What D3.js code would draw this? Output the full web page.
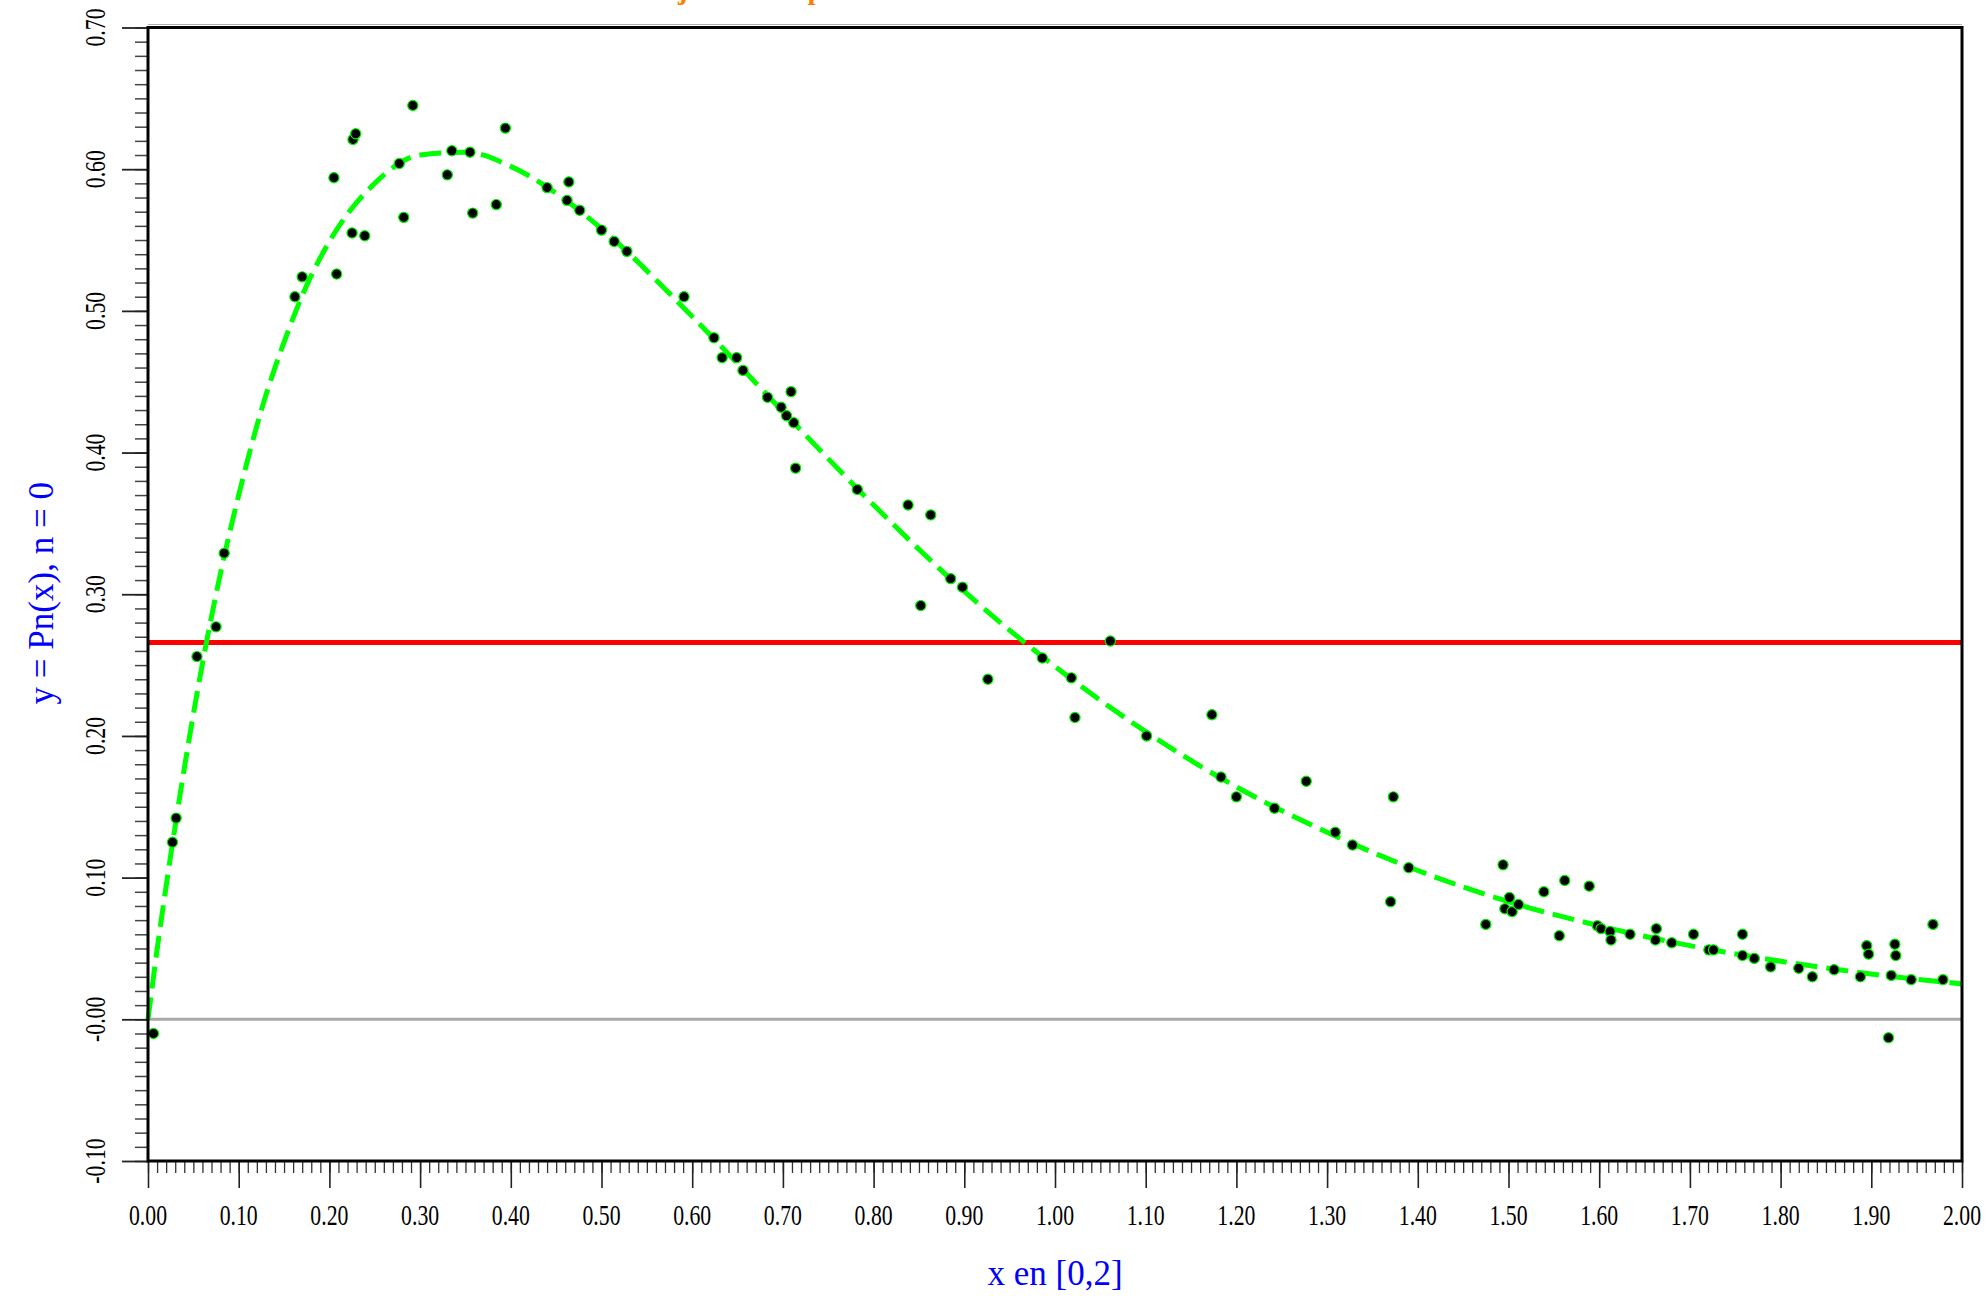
<!DOCTYPE html>
<html>
<head>
<meta charset="utf-8">
<script src="https://cdn.jsdelivr.net/npm/d3@7"></script>
<style>
  html, body { margin: 0; padding: 0; background: #fff; }
  svg { display: block; }
  text { font-family: "Liberation Serif", "Times New Roman", serif; }
</style>
</head>
<body>
<svg id="chart" width="1986" height="1296"></svg>
<script>
// ---- data ----
const pointsX = [0.006,0.027,0.031,0.054,0.075,0.084,0.162,0.170,0.205,0.208,0.225,0.226,0.229,0.239,0.277,0.282,0.292,0.330,0.335,0.355,0.358,0.384,0.394,0.440,0.462,0.464,0.476,0.500,0.514,0.528,0.591,0.624,0.633,0.649,0.656,0.683,0.698,0.704,0.709,0.712,0.714,0.782,0.838,0.852,0.863,0.885,0.898,0.926,0.986,1.018,1.022,1.061,1.101,1.173,1.183,1.200,1.242,1.277,1.309,1.328,1.370,1.373,1.390,1.475,1.494,1.496,1.501,1.504,1.511,1.539,1.556,1.562,1.589,1.598,1.602,1.612,1.613,1.634,1.663,1.662,1.680,1.704,1.721,1.726,1.758,1.758,1.771,1.789,1.820,1.835,1.859,1.888,1.895,1.897,1.919,1.922,1.926,1.927,1.944,1.968,1.979];
const pointsY = [-0.010,0.125,0.142,0.256,0.277,0.329,0.510,0.524,0.594,0.526,0.555,0.621,0.625,0.553,0.604,0.566,0.645,0.596,0.613,0.612,0.569,0.575,0.629,0.587,0.578,0.591,0.571,0.557,0.549,0.542,0.510,0.481,0.467,0.467,0.458,0.439,0.432,0.426,0.443,0.421,0.389,0.374,0.363,0.292,0.356,0.311,0.305,0.240,0.255,0.241,0.213,0.267,0.200,0.215,0.171,0.157,0.149,0.168,0.132,0.123,0.083,0.157,0.107,0.067,0.109,0.078,0.086,0.076,0.081,0.090,0.059,0.098,0.094,0.066,0.064,0.062,0.056,0.060,0.064,0.056,0.054,0.060,0.049,0.049,0.060,0.045,0.043,0.037,0.036,0.030,0.035,0.030,0.052,0.046,-0.013,0.031,0.053,0.045,0.028,0.067,0.028];

const curveX = [0.00,0.01,0.02,0.04,0.06,0.08,0.10,0.125,0.15,0.175,0.20,0.25,0.30,0.35,0.40,0.45,0.50,0.60,0.70,0.80,0.90,1.00,1.10,1.20,1.30,1.40,1.50,1.60,1.70,1.80,1.90,2.00];
const curveY = [0.000,0.049,0.094,0.177,0.251,0.315,0.370,0.430,0.478,0.518,0.549,0.590,0.610,0.612,0.602,0.583,0.558,0.496,0.429,0.363,0.302,0.249,0.203,0.164,0.132,0.105,0.083,0.066,0.052,0.041,0.032,0.025];

const meanLineY = 0.266;

const xTickLabels = ["0.00","0.10","0.20","0.30","0.40","0.50","0.60","0.70","0.80","0.90","1.00","1.10","1.20","1.30","1.40","1.50","1.60","1.70","1.80","1.90","2.00"];
const yTickLabels = ["-0.10","-0.00","0.10","0.20","0.30","0.40","0.50","0.60","0.70"];

const titleText = "Ajustement par moindres carrés";
const xLabel = "x en [0,2]";
const yLabel = "y = Pn(x), n = 0";

// ---- layout ----
const L = 148, R = 1962, T = 27.5, B = 1161;
const svg = d3.select("#chart");

const x = d3.scaleLinear().domain([0, 2]).range([L, R]);
const y = d3.scaleLinear().domain([-0.1, 0.7]).range([B, T]);

// title (only descenders visible, as in the reference)
svg.append("text")
  .attr("x", 657).attr("y", -1)
  .attr("font-size", 29).attr("font-weight", "bold")
  .attr("fill", "#FF8000")
  .text(titleText);

// gray line above top frame
svg.append("line")
  .attr("x1", L).attr("x2", R).attr("y1", T - 3).attr("y2", T - 3)
  .attr("stroke", "#b0b0b0").attr("stroke-width", 1.2);

// zero line
svg.append("line")
  .attr("x1", L).attr("x2", R).attr("y1", y(0)).attr("y2", y(0))
  .attr("stroke", "#a9a9a9").attr("stroke-width", 3);

// mean line
svg.append("line")
  .attr("x1", L).attr("x2", R).attr("y1", y(meanLineY)).attr("y2", y(meanLineY))
  .attr("stroke", "#ff0000").attr("stroke-width", 5);

// fitted curve
const curveData = curveX.map((v, i) => [v, curveY[i]]);
svg.append("path")
  .datum(curveData)
  .attr("fill", "none")
  .attr("stroke", "#00ff00")
  .attr("stroke-width", 5)
  .attr("stroke-dasharray", "22,9")
  .attr("d", d3.line().x(d => x(d[0])).y(d => y(d[1])).curve(d3.curveMonotoneX));

// points
const pts = pointsX.map((v, i) => [v, pointsY[i]]);
svg.append("g").selectAll("circle").data(pts).join("circle")
  .attr("cx", d => x(d[0])).attr("cy", d => y(d[1]))
  .attr("r", 5.1)
  .attr("fill", "#000")
  .attr("stroke", "#00ee00").attr("stroke-width", 1.2);

// x axis ticks
const xMinor = d3.range(0, 201).map(i => i / 100);
const gx = svg.append("g").attr("transform", `translate(0,${B})`);
gx.call(d3.axisBottom(x).tickValues(xMinor).tickSize(12).tickFormat(""))
  .call(g => g.select(".domain").remove())
  .call(g => g.selectAll("line").attr("stroke", "#333").attr("stroke-width", 1.3));
const gx2 = svg.append("g").attr("transform", `translate(0,${B})`);
gx2.call(d3.axisBottom(x).tickValues(xTickLabels.map(Number)).tickSize(27).tickFormat(""))
  .call(g => g.select(".domain").remove())
  .call(g => g.selectAll("line").attr("stroke", "#222").attr("stroke-width", 1.6));
svg.append("g").selectAll("text").data(xTickLabels).join("text")
  .attr("transform", d => `translate(${x(+d)},1225) scale(0.75,1)`)
  .attr("text-anchor", "middle")
  .attr("font-size", 29)
  .attr("fill", "#000")
  .text(d => d);

// y axis ticks
const yMinor = d3.range(-10, 71).map(i => i / 100);
const gy = svg.append("g").attr("transform", `translate(${L},0)`);
gy.call(d3.axisLeft(y).tickValues(yMinor).tickSize(13).tickFormat(""))
  .call(g => g.select(".domain").remove())
  .call(g => g.selectAll("line").attr("stroke", "#444").attr("stroke-width", 1.5));
const gy2 = svg.append("g").attr("transform", `translate(${L},0)`);
gy2.call(d3.axisLeft(y).tickValues(yTickLabels.map(Number)).tickSize(26).tickFormat(""))
  .call(g => g.select(".domain").remove())
  .call(g => g.selectAll("line").attr("stroke", "#222").attr("stroke-width", 1.8));
svg.append("g").selectAll("text").data(yTickLabels).join("text")
  .attr("transform", d => `translate(105,${y(+d)}) rotate(-90) scale(0.75,1)`)
  .attr("text-anchor", "middle")
  .attr("font-size", 29)
  .attr("fill", "#000")
  .text(d => d);

// frame
svg.append("rect")
  .attr("x", L).attr("y", T).attr("width", R - L).attr("height", B - T)
  .attr("fill", "none").attr("stroke", "#000").attr("stroke-width", 3);

// axis labels
svg.append("text")
  .attr("x", (L + R) / 2).attr("y", 1285)
  .attr("text-anchor", "middle")
  .attr("font-size", 35).attr("fill", "#0000ff")
  .text(xLabel);
svg.append("text")
  .attr("transform", `translate(53,${(T + B) / 2 - 1}) rotate(-90)`)
  .attr("text-anchor", "middle")
  .attr("font-size", 35).attr("fill", "#0000ff")
  .text(yLabel);
</script>
</body>
</html>
